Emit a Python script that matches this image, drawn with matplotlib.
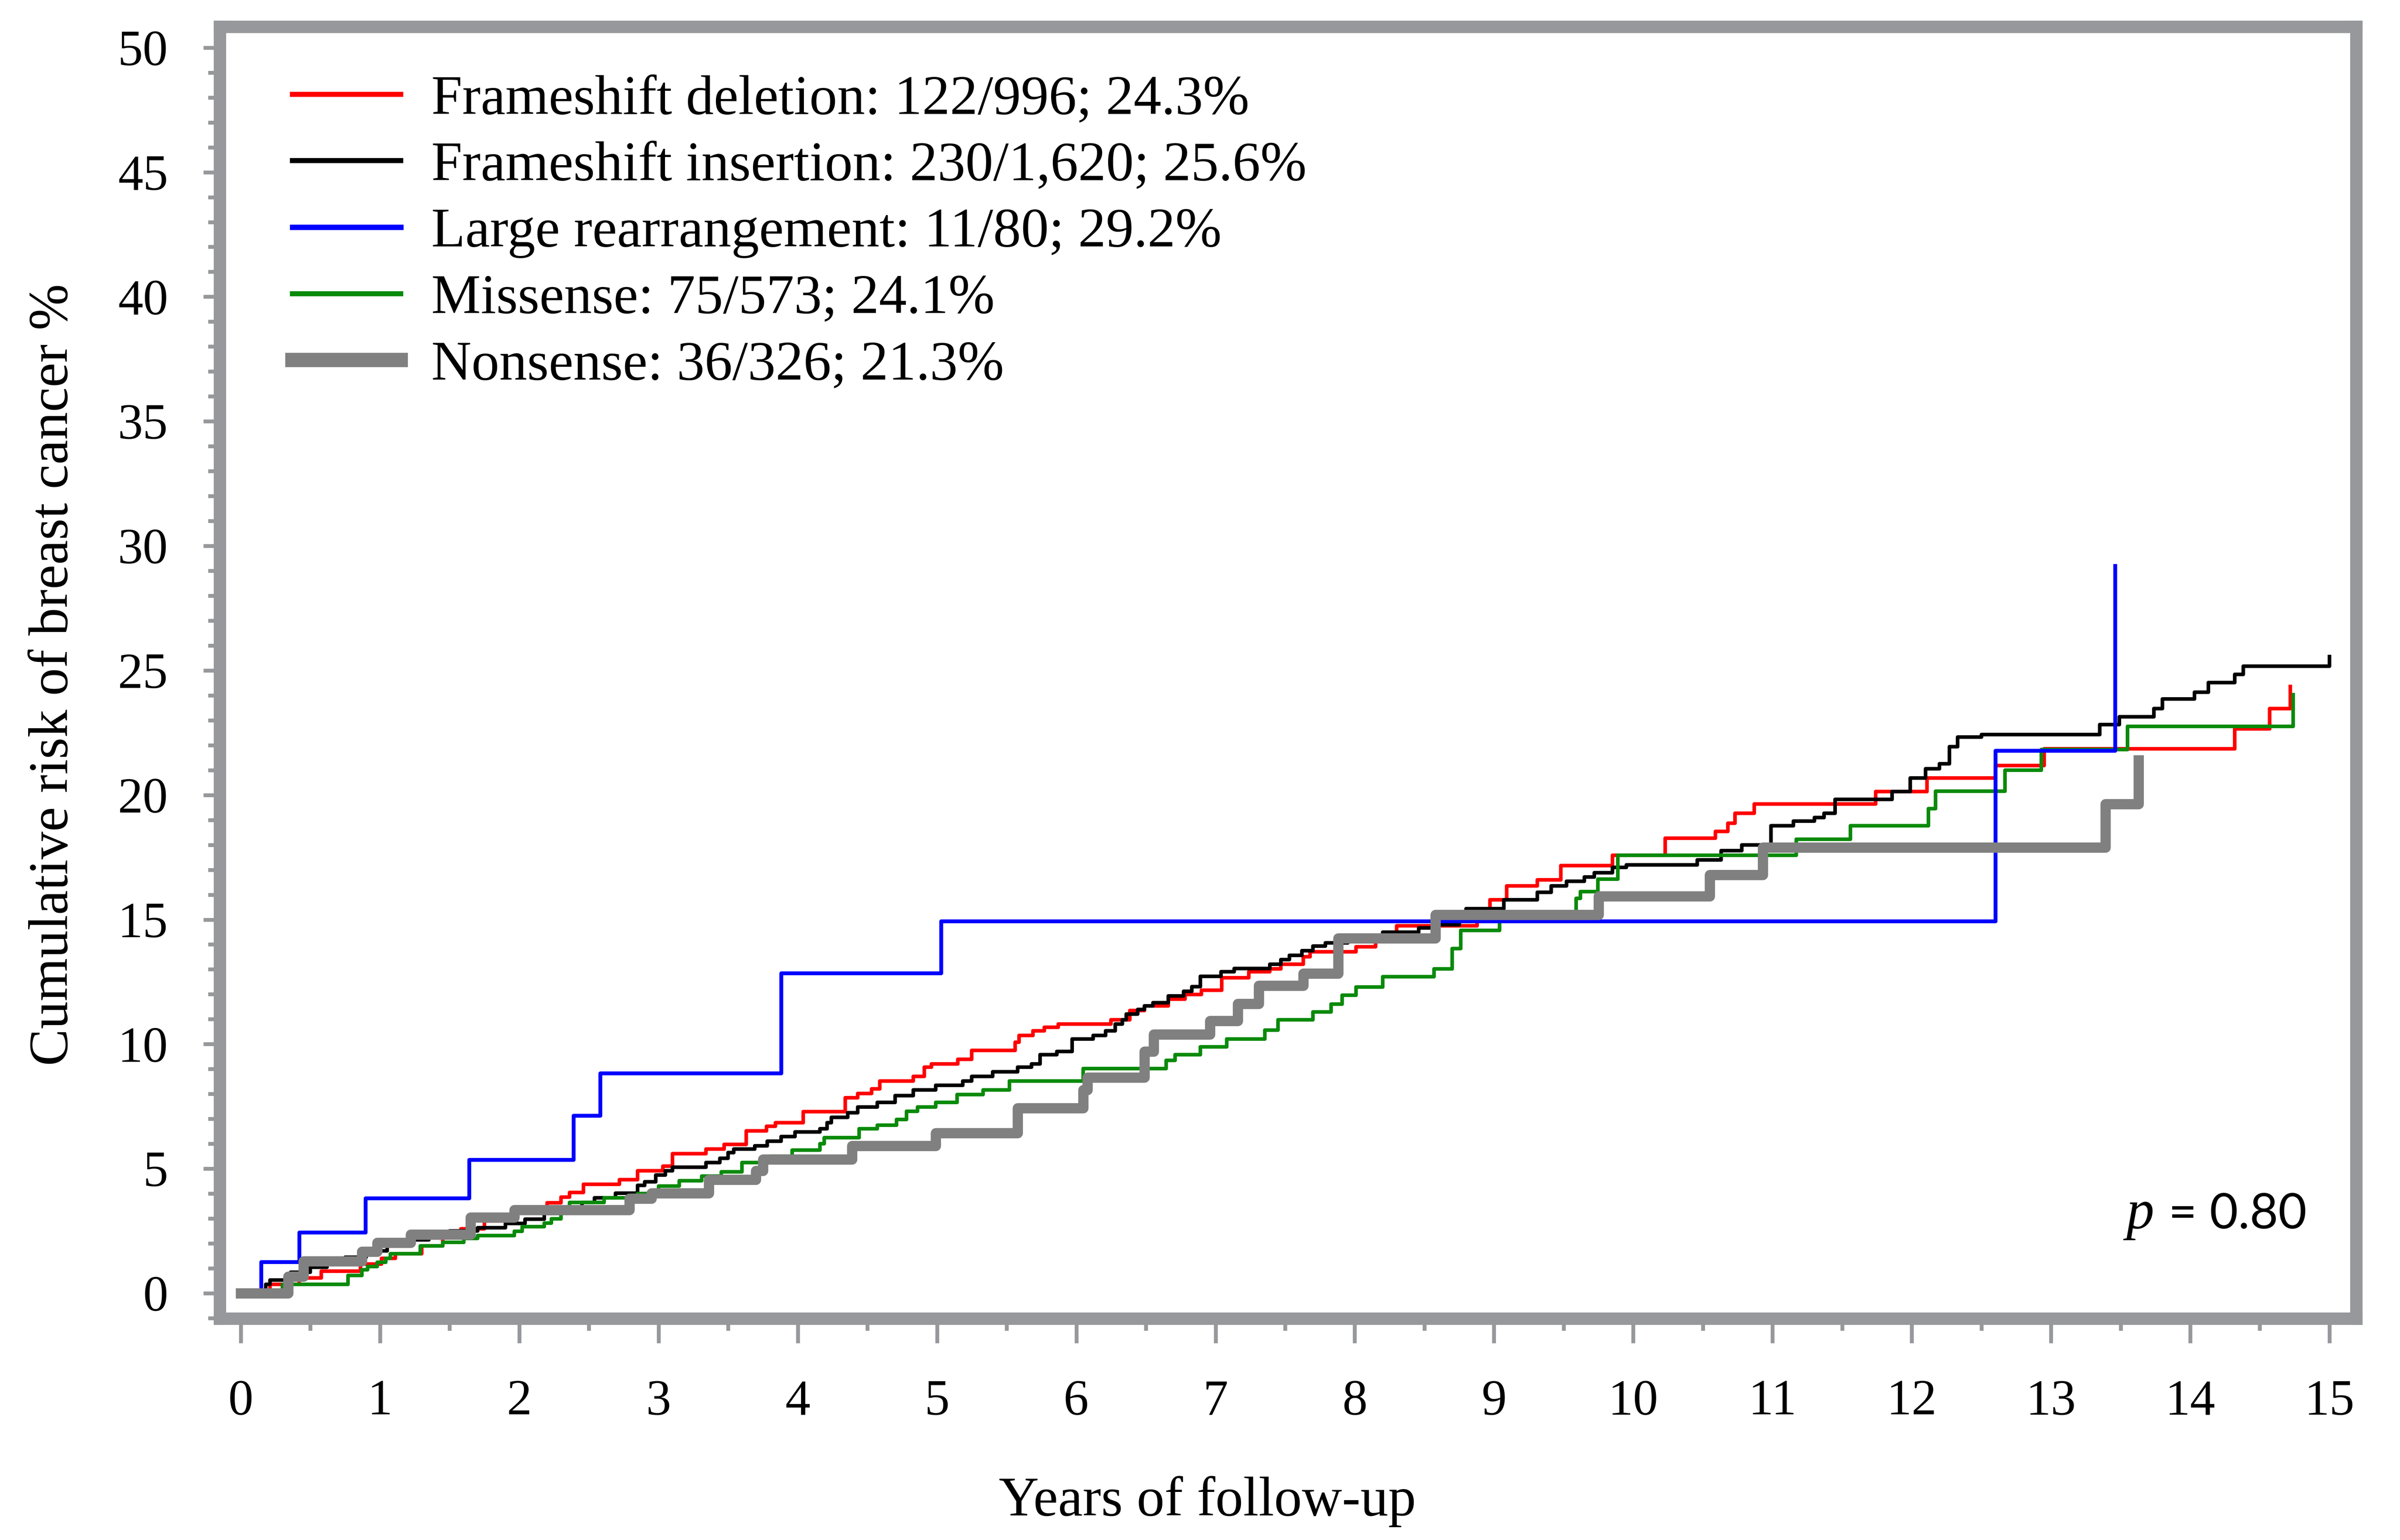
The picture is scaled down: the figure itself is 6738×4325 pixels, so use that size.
import matplotlib.pyplot as plt
from matplotlib.ticker import MultipleLocator

# ---- data (years, cumulative risk %) ----
del_t = [0.21, 0.42, 0.578, 0.86, 1.01, 1.11, 1.30, 1.45, 1.58, 1.75, 1.98, 2.20, 2.30, 2.36,
         2.46, 2.72, 2.85, 3.03, 3.10, 3.34, 3.47, 3.63, 3.775, 3.84, 4.04, 4.34, 4.43, 4.53,
         4.59, 4.83, 4.91, 4.96, 5.15, 5.25, 5.56, 5.59, 5.69, 5.77, 5.87, 6.25, 6.385, 6.49,
         6.66, 6.78, 6.90, 7.045, 7.24, 7.39, 7.47, 7.63, 7.68, 8.01, 8.15, 8.30, 8.88, 8.97,
         9.09, 9.31, 9.48, 9.85, 10.23, 10.59, 10.68, 10.73, 10.87, 11.74, 12.11, 12.60, 12.95,
         14.32, 14.57, 14.72]
del_y = [0.35, 0.62, 0.89, 1.17, 1.40, 1.58, 1.90, 2.25, 2.58, 2.90, 3.25, 3.63, 3.86, 4.04,
         4.37, 4.56, 4.92, 5.10, 5.60, 5.79, 5.97, 6.52, 6.70, 6.84, 7.29, 7.84, 8.02, 8.20,
         8.52, 8.70, 9.07, 9.21, 9.39, 9.75, 10.07, 10.35, 10.53, 10.67, 10.80, 10.98, 11.35, 11.53,
         11.80, 11.99, 12.17, 12.67, 12.90, 13.02, 13.20, 13.50, 13.70, 13.90, 14.20, 14.75, 15.20, 15.80,
         16.35, 16.60, 17.17, 17.58, 18.27, 18.54, 18.86, 19.27, 19.64, 20.14, 20.68, 21.18, 21.85,
         22.66, 23.47, 24.35]

ins_t = [0.178, 0.21, 0.358, 0.50, 0.62, 0.75, 0.90, 1.05, 1.20, 1.35, 1.50, 1.70, 1.90, 2.04,
         2.18, 2.30, 2.45, 2.54, 2.69, 2.85, 2.90, 2.98, 3.05, 3.10, 3.34, 3.44, 3.50, 3.54,
         3.69, 3.78, 3.88, 3.98, 4.16, 4.21, 4.24, 4.36, 4.43, 4.57, 4.70, 4.83, 4.99, 5.185,
         5.25, 5.40, 5.58, 5.68, 5.74, 5.86, 5.97, 6.12, 6.21, 6.28, 6.33, 6.36, 6.44, 6.49,
         6.55, 6.66, 6.77, 6.83, 6.89, 7.04, 7.135, 7.39, 7.47, 7.53, 7.62, 7.70, 7.79, 7.95,
         8.20, 8.46, 8.60, 8.75, 8.80, 9.07, 9.31, 9.41, 9.52, 9.65, 9.72, 9.85, 9.95, 10.46,
         10.63, 10.78, 10.99, 11.15, 11.30, 11.37, 11.45, 11.86, 11.99, 12.10, 12.20, 12.27, 12.33,
         12.50, 13.35, 13.49, 13.74, 13.80, 14.03, 14.13, 14.32, 14.38, 15.0]
ins_y = [0.35, 0.53, 0.85, 1.05, 1.25, 1.45, 1.70, 1.95, 2.15, 2.35, 2.50, 2.63, 2.80, 2.97,
         3.20, 3.45, 3.65, 3.83, 4.01, 4.33, 4.47, 4.74, 4.92, 5.06, 5.24, 5.42, 5.65, 5.79,
         5.92, 6.11, 6.29, 6.47, 6.61, 6.84, 7.06, 7.24, 7.47, 7.66, 7.93, 8.16, 8.34, 8.52,
         8.70, 8.89, 9.07, 9.21, 9.58, 9.71, 10.21, 10.35, 10.53, 10.80, 10.98, 11.21, 11.39, 11.53,
         11.67, 11.94, 12.12, 12.31, 12.72, 12.90, 13.04, 13.20, 13.39, 13.57, 13.75, 13.93, 14.07, 14.25,
         14.50, 14.67, 14.80, 15.20, 15.44, 15.80, 16.10, 16.35, 16.53, 16.71, 16.88, 17.10, 17.20, 17.40,
         17.77, 17.99, 18.77, 18.95, 19.10, 19.27, 19.82, 20.14, 20.68, 21.05, 21.25, 21.94, 22.33,
         22.43, 22.82, 23.14, 23.47, 23.86, 24.13, 24.51, 24.84, 25.17, 25.56]

lr_t = [0.146, 0.42, 0.895, 1.64, 2.39, 2.58, 3.88, 5.03, 12.60, 13.46]
lr_y = [1.26, 2.44, 3.82, 5.36, 7.13, 8.84, 12.85, 14.94, 21.78, 29.2]

mis_t = [0.30, 0.77, 0.87, 0.91, 0.98, 1.04, 1.075, 1.29, 1.45, 1.60, 1.70, 1.965, 2.02, 2.18,
         2.23, 2.30, 2.36, 2.61, 2.85, 3.00, 3.15, 3.31, 3.45, 3.60, 3.80, 3.96, 4.16, 4.19,
         4.44, 4.57, 4.71, 4.78, 4.86, 4.99, 5.145, 5.33, 5.52, 6.05, 6.645, 6.71, 6.89, 7.08,
         7.355, 7.45, 7.70, 7.83, 7.91, 8.01, 8.20, 8.57, 8.70, 8.76, 9.04, 9.59, 9.62, 9.745,
         9.89, 11.17, 11.56, 12.12, 12.17, 12.67, 12.93, 13.55, 14.74]
mis_y = [0.35, 0.71, 0.94, 1.07, 1.25, 1.40, 1.58, 1.90, 2.05, 2.20, 2.31, 2.49, 2.67, 2.81,
         2.99, 3.30, 3.64, 3.83, 4.00, 4.30, 4.51, 4.70, 4.87, 5.24, 5.50, 5.74, 6.00, 6.25,
         6.61, 6.75, 6.97, 7.30, 7.47, 7.66, 7.98, 8.16, 8.52, 9.02, 9.35, 9.58, 9.89, 10.20,
         10.56, 10.98, 11.29, 11.61, 11.97, 12.29, 12.70, 13.02, 13.84, 14.57, 15.00, 15.85, 16.12, 16.62,
         17.58, 18.22, 18.77, 19.45, 20.16, 21.00, 21.83, 22.76, 24.02]

non_t = [0.34, 0.45, 0.87, 0.98, 1.22, 1.65, 1.965, 2.79, 2.95, 3.36, 3.70, 3.75, 4.39, 4.99,
         5.58, 6.05, 6.08, 6.49, 6.556, 6.96, 7.16, 7.31, 7.63, 7.88, 8.58, 9.75, 10.55, 10.93,
         13.39, 13.63]
non_y = [0.67, 1.29, 1.67, 2.03, 2.36, 3.04, 3.35, 3.80, 4.01, 4.56, 4.92, 5.38, 5.92, 6.43,
         7.43, 8.16, 8.66, 9.70, 10.39, 10.94, 11.62, 12.35, 12.84, 14.25, 15.20, 15.94, 16.80, 17.90,
         19.64, 21.40]

labels = ["Frameshift deletion: 122/996; 24.3%",
          "Frameshift insertion: 230/1,620; 25.6%",
          "Large rearrangement: 11/80; 29.2%",
          "Missense: 75/573; 24.1%",
          "Nonsense: 36/326; 21.3%"]

frame_col = "#96989b"
serif = "Liberation Serif"

fig = plt.figure(figsize=(6738 / 432, 4325 / 432), dpi=432)
ax = fig.add_axes([617 / 6738, 1 - 3703 / 4325, 5998 / 6738, 3628 / 4325])

series = [
    (del_t, del_y, "#ff0000", 1.7, 2),
    (ins_t, ins_y, "#000000", 1.7, 3),
    (lr_t, lr_y, "#0000ff", 1.8, 5),
    (mis_t, mis_y, "#0a8a0a", 1.7, 4),
    (non_t, non_y, "#808080", 4.8, 6),
]
handles = []
for (t, y, col, lw, z), lab in zip(series, labels):
    h, = ax.step([0] + t, [0] + y, where="post", color=col, lw=lw, zorder=z, label=lab)
    handles.append(h)

ax.set_xlim(-0.151, 15.192)
ax.set_ylim(-1.015, 50.84)

for sp in ax.spines.values():
    sp.set_color(frame_col)
    sp.set_linewidth(5.8)

ax.xaxis.set_major_locator(MultipleLocator(1))
ax.xaxis.set_minor_locator(MultipleLocator(0.5))
ax.yaxis.set_major_locator(MultipleLocator(5))
ax.yaxis.set_minor_locator(MultipleLocator(1))
ax.tick_params(axis="x", which="major", length=11.5, width=1.8, color=frame_col, pad=17,
               labelsize=23.5)
ax.tick_params(axis="x", which="minor", length=5.7, width=1.8, color=frame_col)
ax.tick_params(axis="y", which="major", length=7.7, width=1.8, color=frame_col, pad=16.5,
               labelsize=23.5)
ax.tick_params(axis="y", which="minor", length=5.5, width=1.8, color=frame_col)
for lab in ax.get_xticklabels() + ax.get_yticklabels():
    lab.set_fontfamily(serif)

fig.text(3390 / 6738, 1 - 4217 / 4325, "Years of follow-up", family=serif, fontsize=26,
         ha="center", va="center")
fig.text(151 / 6738, 1 - 1895 / 4325, "Cumulative risk of breast cancer %", family=serif,
         fontsize=26, rotation=90, ha="center", va="center")

leg = ax.legend(handles=handles, loc="upper left", bbox_to_anchor=(0.034, 0.9628),
                frameon=False, borderpad=0, borderaxespad=0, handlelength=1.95,
                handletextpad=0.55, labelspacing=0.285, prop={"family": serif, "size": 26})
for ln in leg.get_lines():
    ln.set_linewidth(ln.get_linewidth() * 1.4)

fig.text(0.8975, 1 - 3450 / 4325, "p", family=serif, style="italic", fontsize=26,
         ha="right", va="baseline")
fig.text(0.9035, 1 - 3450 / 4325, "= 0.80", family="Lato", fontsize=23,
         ha="left", va="baseline")

fig.savefig("out.png", dpi=432, facecolor="white")
